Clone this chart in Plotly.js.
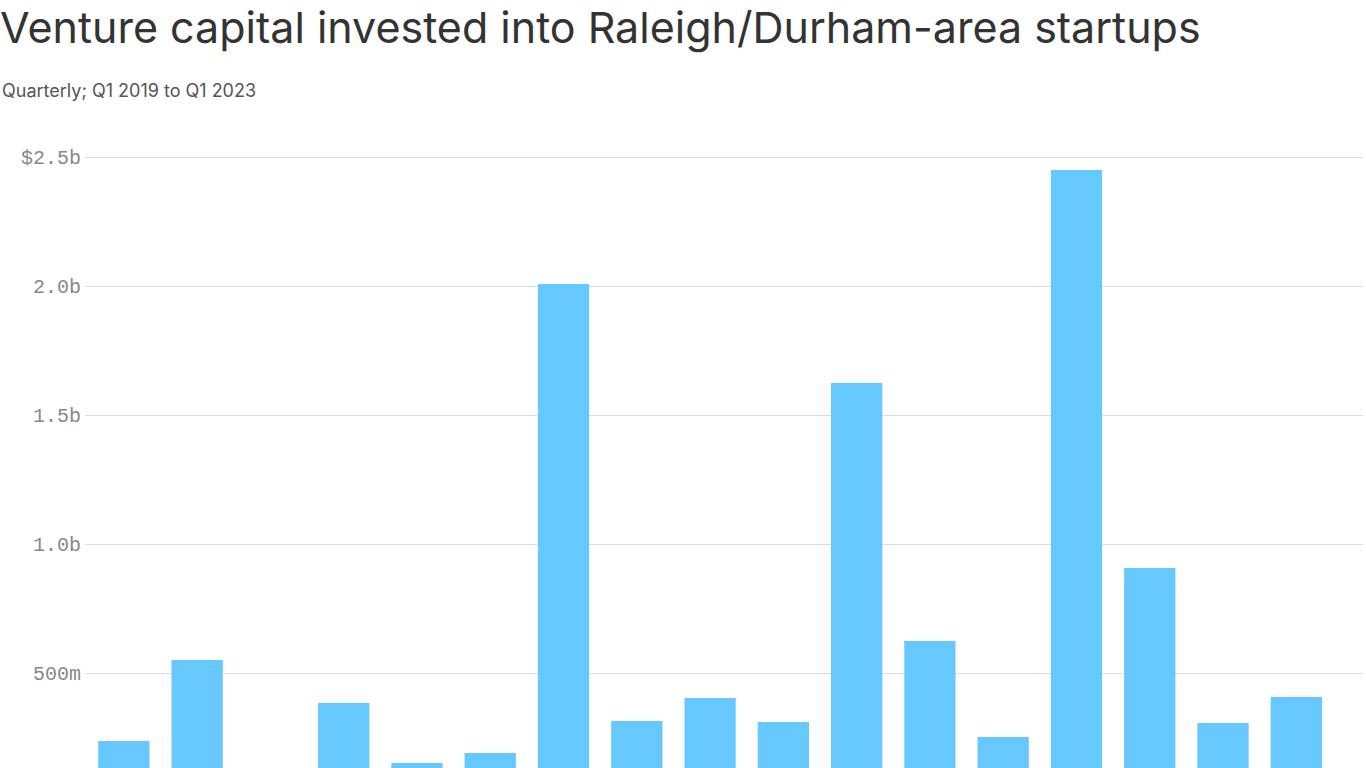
<!DOCTYPE html>
<html>
<head>
<meta charset="utf-8">
<script src="https://cdn.plot.ly/plotly-3.0.1.min.js"></script>
<style>
  html, body { margin: 0; padding: 0; overflow: hidden; background: #fff; }
  #chart { width: 1366px; height: 810px; }
</style>
</head>
<body>
<div id="chart"></div>
<script>
// Quarterly VC invested, Q1 2019 to Q1 2023 (USD)
const quarters = [
  "Q1 2019", "Q2 2019", "Q3 2019", "Q4 2019",
  "Q1 2020", "Q2 2020", "Q3 2020", "Q4 2020",
  "Q1 2021", "Q2 2021", "Q3 2021", "Q4 2021",
  "Q1 2022", "Q2 2022", "Q3 2022", "Q4 2022",
  "Q1 2023",
];
const invested = [
  236e6, 550e6, 90e6, 384e6,
  151e6, 190e6, 2008e6, 314e6,
  403e6, 310e6, 1624e6, 624e6,
  252e6, 2450e6, 907e6, 306e6,
  407e6,
];
const tickVals = [0, 500e6, 1.0e9, 1.5e9, 2.0e9, 2.5e9];
const tickText = ["0", "500m", "1.0b", "1.5b", "2.0b", "$2.5b"];

const trace = {
  x: quarters,
  y: invested,
  type: "bar",
  marker: { color: "#66c8ff" },
  hovertemplate: "%{x}: %{y}<extra></extra>",
};

const layout = {
  width: 1366,
  height: 810,
  margin: { t: 156, r: 3, b: 8, l: 85 },
  paper_bgcolor: "#fff",
  plot_bgcolor: "#fff",
  bargap: 0.3,
  showlegend: false,
  font: { family: "Inter, 'Noto Sans', sans-serif", color: "#333" },
  title: {
    text: "Venture capital invested into Raleigh/Durham-area startups",
    font: { family: "Inter, 'Noto Sans', sans-serif", size: 43, color: "#333" },
    xref: "container",
    x: 0,
    xanchor: "left",
    yref: "container",
    y: 1 - 28 / 810,
    yanchor: "middle",
  },
  annotations: [
    {
      text: "Quarterly; Q1 2019 to Q1 2023",
      xref: "paper",
      yref: "paper",
      x: 0,
      xshift: -85,
      y: 1,
      yshift: 66,
      xanchor: "left",
      yanchor: "middle",
      showarrow: false,
      font: { family: "Inter, 'Noto Sans', sans-serif", size: 18, color: "#555" },
    },
  ],
  xaxis: {
    range: [-0.53, 16.91],
    showticklabels: false,
    showgrid: false,
    zeroline: false,
    showline: false,
    ticks: "",
  },
  yaxis: {
    range: [0, 2.5039e9],
    tickvals: tickVals,
    ticktext: tickText,
    tickfont: { family: "'Liberation Mono', 'DejaVu Sans Mono', monospace", size: 20, color: "#888" },
    gridcolor: "#dddddd",
    gridwidth: 1,
    zeroline: false,
    showline: false,
    ticks: "",
    ticklabelstandoff: 3,
  },
};

Plotly.newPlot("chart", [trace], layout, { displayModeBar: false, staticPlot: true });
</script>
</body>
</html>
